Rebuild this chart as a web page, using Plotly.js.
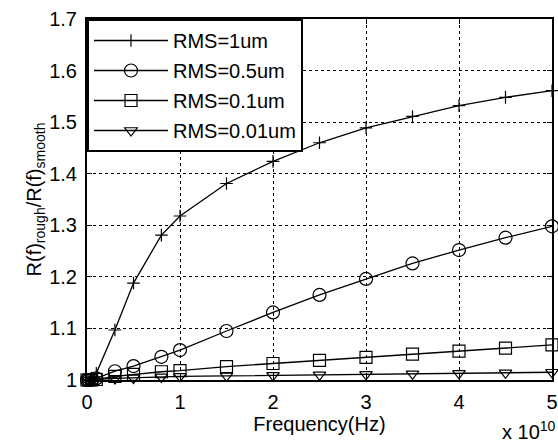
<!DOCTYPE html>
<html>
<head>
<meta charset="utf-8">
<script src="https://cdn.plot.ly/plotly-3.0.1.min.js"></script>
<style>html,body{margin:0;padding:0;background:#fff;}#chart{width:558px;height:445px;}</style>
</head>
<body>
<div id="chart"></div>
<script>
// Frequency in units of 1e10 Hz
var freq = [0, 0.02, 0.05, 0.1, 0.3, 0.5, 0.8, 1, 1.5, 2, 2.5, 3, 3.5, 4, 4.5, 5];
var rms1 = [1.0, 1.001, 1.004, 1.013, 1.097, 1.188, 1.281, 1.318, 1.381, 1.424, 1.46, 1.489, 1.511, 1.532, 1.548, 1.561];
var rms05 = [1.0, 1.0, 1.001, 1.003, 1.017, 1.027, 1.045, 1.058, 1.095, 1.131, 1.165, 1.196, 1.226, 1.252, 1.276, 1.298];
var rms01 = [1.0, 1.0, 1.0, 1.001, 1.007, 1.011, 1.016, 1.018, 1.026, 1.032, 1.038, 1.044, 1.05, 1.056, 1.062, 1.068];
var rms001 = [1.0, 1.0, 1.0, 1.001, 1.003, 1.004, 1.006, 1.007, 1.008, 1.009, 1.01, 1.011, 1.012, 1.013, 1.014, 1.015];
var seriesNames = ['RMS=1um', 'RMS=0.5um', 'RMS=0.1um', 'RMS=0.01um'];
var xTickVals = [0, 1, 2, 3, 4, 5];
var yTickVals = [1, 1.1, 1.2, 1.3, 1.4, 1.5, 1.6, 1.7];

var FONT = 'Liberation Sans, Arial, sans-serif';
var FS = 20;
var symbols = ['cross-thin-open', 'circle-open', 'square-open', 'triangle-down-open'];
var sizes = [9, 13, 12, 11];
var ys = [rms1, rms05, rms01, rms001];

var traces = ys.map(function (y, i) {
  return {
    x: freq, y: y, name: seriesNames[i], type: 'scatter', mode: 'lines+markers',
    legendgroup: 'g' + i, cliponaxis: false,
    line: {color: '#000', width: 1.3},
    marker: {symbol: symbols[i], size: sizes[i], color: '#000', line: {color: '#000', width: 1.2}}
  };
});

var layout = {
  width: 558, height: 445,
  margin: {l: 87, r: 6, t: 19, b: 65},
  paper_bgcolor: '#fff', plot_bgcolor: '#fff',
  font: {family: FONT, size: FS, color: '#000'},
  showlegend: true,
  legend: {
    x: 0, y: 1, xanchor: 'left', yanchor: 'top',
    bgcolor: '#fff', bordercolor: '#000', borderwidth: 2,
    font: {family: FONT, size: FS, color: '#000'},
    itemwidth: 74, tracegroupgap: 1
  },
  xaxis: {
    range: [0, 5], tickvals: xTickVals, ticktext: xTickVals.map(String),
    showline: true, mirror: 'ticks', linecolor: '#000', linewidth: 2,
    ticks: 'inside', ticklen: 5, tickcolor: '#000', tickwidth: 1,
    showgrid: true, gridcolor: '#000', griddash: 'dot', gridwidth: 1,
    zeroline: false, ticklabelstandoff: 3,
    title: {text: 'Frequency(Hz)', font: {family: FONT, size: FS}, standoff: 4}
  },
  yaxis: {
    range: [1, 1.7], tickvals: yTickVals, ticktext: yTickVals.map(String),
    showline: true, mirror: 'ticks', linecolor: '#000', linewidth: 2,
    ticks: 'inside', ticklen: 5, tickcolor: '#000', tickwidth: 1,
    showgrid: true, gridcolor: '#000', griddash: 'dot', gridwidth: 1,
    zeroline: false, ticklabelstandoff: 4,
    title: {text: 'R(f)<sub>rough</sub>/R(f)<sub>smooth</sub>', font: {family: FONT, size: FS}, standoff: 2}
  },
  annotations: [{
    xref: 'paper', yref: 'paper', x: 1, y: 0, xanchor: 'right', yanchor: 'bottom',
    yshift: -65, xshift: 6, showarrow: false,
    text: 'x 10<sup>10</sup>', font: {family: FONT, size: FS, color: '#000'}
  }]
};

Plotly.newPlot('chart', traces, layout, {displayModeBar: false, staticPlot: true});
</script>
</body>
</html>
